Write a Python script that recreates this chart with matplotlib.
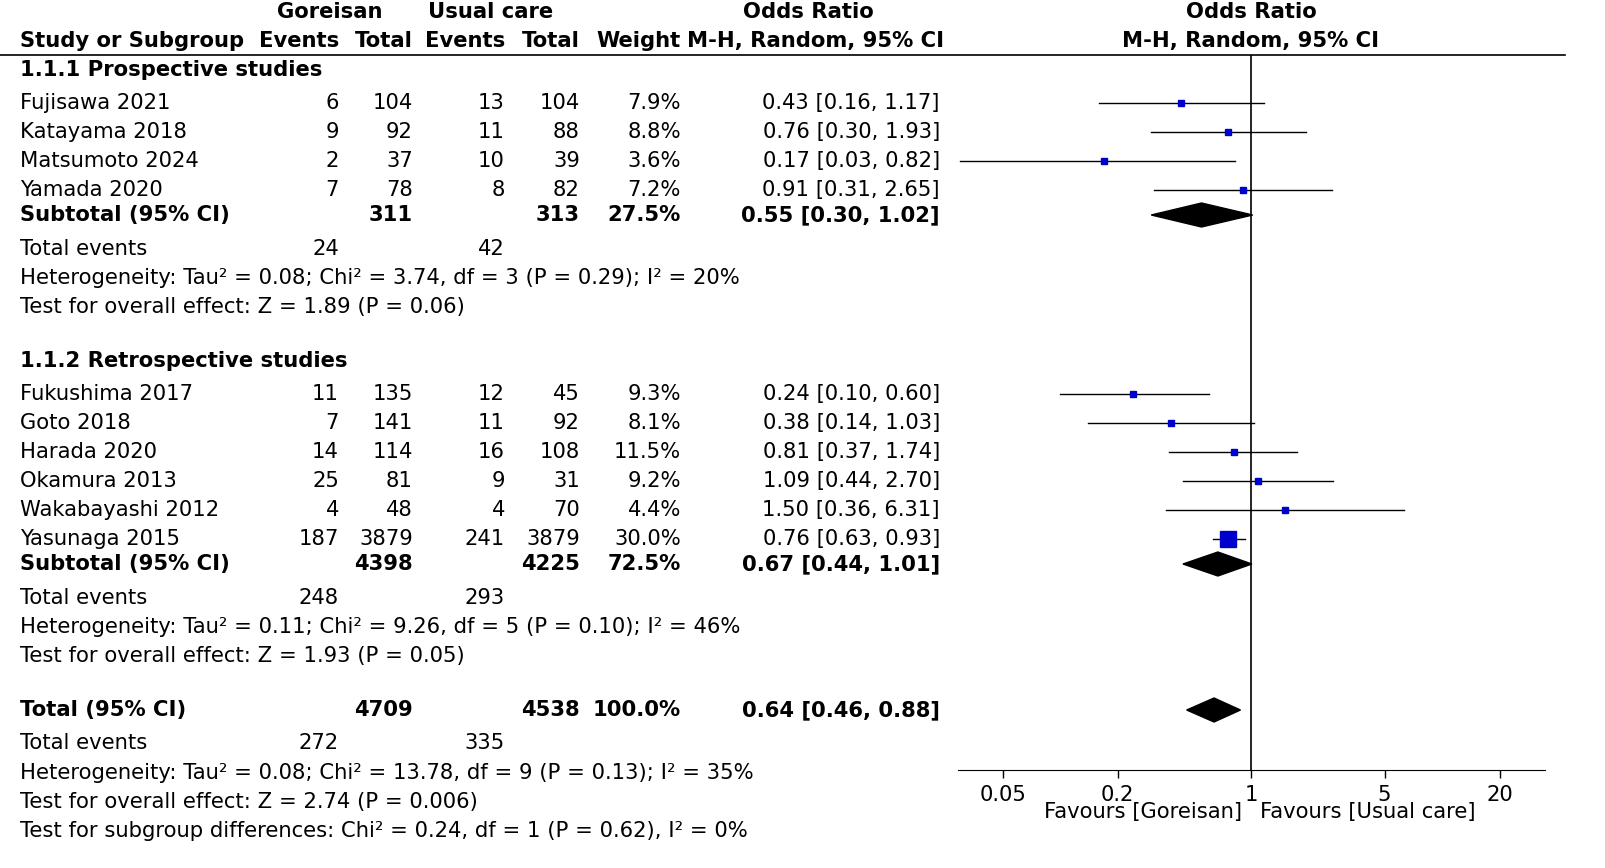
import matplotlib
matplotlib.use("Agg")
import matplotlib.pyplot as plt
from matplotlib.patches import Polygon

studies1 = ["Fujisawa 2021", "Katayama 2018", "Matsumoto 2024", "Yamada 2020"]
ge1 = [6, 9, 2, 7]; gt1 = [104, 92, 37, 78]; ue1 = [13, 11, 10, 8]; ut1 = [104, 88, 39, 82]
w1 = [7.9, 8.8, 3.6, 7.2]
or1 = [0.43, 0.76, 0.17, 0.91]; lo1 = [0.16, 0.30, 0.03, 0.31]; hi1 = [1.17, 1.93, 0.82, 2.65]
studies2 = ["Fukushima 2017", "Goto 2018", "Harada 2020", "Okamura 2013", "Wakabayashi 2012", "Yasunaga 2015"]
ge2 = [11, 7, 14, 25, 4, 187]; gt2 = [135, 141, 114, 81, 48, 3879]
ue2 = [12, 11, 16, 9, 4, 241]; ut2 = [45, 92, 108, 31, 70, 3879]
w2 = [9.3, 8.1, 11.5, 9.2, 4.4, 30.0]
or2 = [0.24, 0.38, 0.81, 1.09, 1.50, 0.76]; lo2 = [0.10, 0.14, 0.37, 0.44, 0.36, 0.63]; hi2 = [0.60, 1.03, 1.74, 2.70, 6.31, 0.93]
sub_or = [0.55, 0.67, 0.64]; sub_lo = [0.30, 0.44, 0.46]; sub_hi = [1.02, 1.01, 0.88]
xticks = [0.05, 0.2, 1, 5, 20]
xticklabels = ["0.05", "0.2", "1", "5", "20"]

W, H = 1606, 868
fig = plt.figure(figsize=(W/100, H/100), dpi=100)
ax = fig.add_axes([0, 0, 1, 1]); ax.set_xlim(0, W); ax.set_ylim(H, 0); ax.axis("off")
fs = 15.2
def t(x, y, s, ha="left", bold=False):
    ax.text(x, y, s, ha=ha, va="center", fontsize=fs, fontweight="bold" if bold else "normal", family="DejaVu Sans")

t(330, 12, "Goreisan", "center", True); t(491, 12, "Usual care", "center", True)
t(808, 12, "Odds Ratio", "center", True); t(1251, 12, "Odds Ratio", "center", True)
t(20, 41, "Study or Subgroup", bold=True)
for x, s in [(339, "Events"), (413, "Total"), (505, "Events"), (580, "Total"), (681, "Weight")]:
    t(x, 41, s, "right", True)
t(816, 41, "M-H, Random, 95% CI", "center", True); t(1251, 41, "M-H, Random, 95% CI", "center", True)
ax.plot([0, 1565], [55, 55], color="black", lw=1.2)

cols = [339, 413, 505, 580, 681, 940]
def study_rows(names, ge, gt, ue, ut, w, o, l, h, ys):
    for i, y in enumerate(ys):
        t(20, y, names[i])
        vals = [ge[i], gt[i], ue[i], ut[i], f"{w[i]:.1f}%", f"{o[i]:.2f} [{l[i]:.2f}, {h[i]:.2f}]"]
        for x, v in zip(cols, vals):
            t(x, y, str(v), "right")

ys1 = [103, 132, 161, 190]
ys2 = [394, 423, 452, 481, 510, 539]
t(20, 70, "1.1.1 Prospective studies", bold=True)
study_rows(studies1, ge1, gt1, ue1, ut1, w1, or1, lo1, hi1, ys1)
t(20, 215, "Subtotal (95% CI)", bold=True); t(413, 215, str(sum(gt1)), "right", True); t(580, 215, str(sum(ut1)), "right", True)
t(681, 215, "27.5%", "right", True); t(940, 215, "0.55 [0.30, 1.02]", "right", True)
t(20, 249, "Total events"); t(339, 249, str(sum(ge1)), "right"); t(505, 249, str(sum(ue1)), "right")
t(20, 278, "Heterogeneity: Tau² = 0.08; Chi² = 3.74, df = 3 (P = 0.29); I² = 20%")
t(20, 307, "Test for overall effect: Z = 1.89 (P = 0.06)")

t(20, 361, "1.1.2 Retrospective studies", bold=True)
study_rows(studies2, ge2, gt2, ue2, ut2, w2, or2, lo2, hi2, ys2)
t(20, 564, "Subtotal (95% CI)", bold=True); t(413, 564, str(sum(gt2)), "right", True); t(580, 564, str(sum(ut2)), "right", True)
t(681, 564, "72.5%", "right", True); t(940, 564, "0.67 [0.44, 1.01]", "right", True)
t(20, 598, "Total events"); t(339, 598, str(sum(ge2)), "right"); t(505, 598, str(sum(ue2)), "right")
t(20, 627, "Heterogeneity: Tau² = 0.11; Chi² = 9.26, df = 5 (P = 0.10); I² = 46%")
t(20, 656, "Test for overall effect: Z = 1.93 (P = 0.05)")

t(20, 710, "Total (95% CI)", bold=True); t(413, 710, str(sum(gt1)+sum(gt2)), "right", True)
t(580, 710, str(sum(ut1)+sum(ut2)), "right", True); t(681, 710, "100.0%", "right", True)
t(940, 710, "0.64 [0.46, 0.88]", "right", True)
t(20, 743, "Total events"); t(339, 743, str(sum(ge1)+sum(ge2)), "right"); t(505, 743, str(sum(ue1)+sum(ue2)), "right")
t(20, 773, "Heterogeneity: Tau² = 0.08; Chi² = 13.78, df = 9 (P = 0.13); I² = 35%")
t(20, 802, "Test for overall effect: Z = 2.74 (P = 0.006)")
t(20, 831, "Test for subgroup differences: Chi² = 0.24, df = 1 (P = 0.62), I² = 0%")

fx0, fx1, fy0, fy1 = 958, 1545, 55, 770
fa = fig.add_axes([fx0/W, 1-fy1/H, (fx1-fx0)/W, (fy1-fy0)/H])
fa.set_xscale("log"); fa.set_xlim(0.0292, 34.6); fa.set_ylim(fy1, fy0)
fa.patch.set_alpha(0)
for s in ["top", "right", "left"]:
    fa.spines[s].set_visible(False)
fa.set_yticks([])
fa.set_xticks(xticks); fa.set_xticklabels(xticklabels, fontsize=fs)
fa.minorticks_off()
fa.tick_params(axis="x", length=6, width=1, pad=5)
fa.axvline(1, color="black", lw=1.2)
for o, l, h, w, y in zip(or1+or2, lo1+lo2, hi1+hi2, w1+w2, ys1+ys2):
    fa.plot([l, h], [y, y], color="black", lw=1)
    ms = 4 + (w/30.0)*7 if w >= 20 else 4.5
    fa.plot([o], [y], marker="s", ms=ms, color="#0000CC", mec="#0000CC", ls="none")
for o, l, h, y in zip(sub_or, sub_lo, sub_hi, [215, 564, 710]):
    fa.add_patch(Polygon([[l, y], [o, y-12], [h, y], [o, y+12]], closed=True, color="black"))
fa.text(1/1.12, fy1+42, "Favours [Goreisan]", ha="right", va="center", fontsize=fs)
fa.text(1*1.12, fy1+42, "Favours [Usual care]", ha="left", va="center", fontsize=fs)

fig.savefig("out.png", dpi=100)
